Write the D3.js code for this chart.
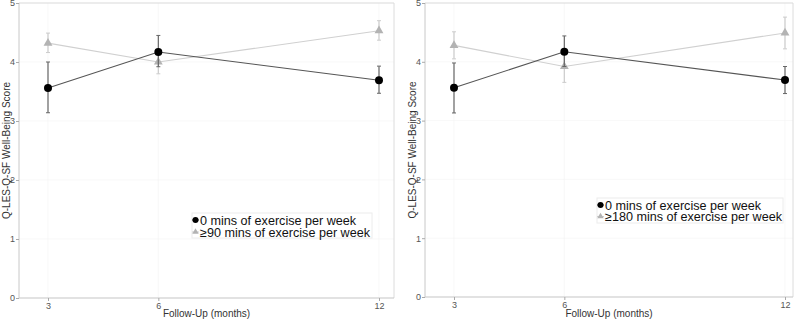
<!DOCTYPE html>
<html>
<head>
<meta charset="utf-8">
<script src="https://cdn.jsdelivr.net/npm/d3@7"></script>
<style>
  body { margin: 0; background: #fff; }
  svg { font-family: "Liberation Sans", Arial, sans-serif; }
</style>
</head>
<body>
<div id="wrapper"></div>
<script>
// follow-up months
const months = [3, 6, 12];
const yTicks = [0, 1, 2, 3, 4, 5];

// left panel: 0 mins vs >=90 mins
const left0Mean = [3.56, 4.17, 3.69];
const left0Low = [3.14, 3.92, 3.47];
const left0High = [4.0, 4.45, 3.93];
const left90Mean = [4.32, 4.0, 4.53];
const left90Low = [4.16, 3.8, 4.37];
const left90High = [4.49, 4.2, 4.70];

// right panel: 0 mins vs >=180 mins
const right0Mean = [3.56, 4.17, 3.69];
const right0Low = [3.13, 3.92, 3.46];
const right0High = [3.98, 4.44, 3.92];
const right180Mean = [4.28, 3.92, 4.49];
const right180Low = [4.05, 3.65, 4.22];
const right180High = [4.51, 4.18, 4.76];

const zipSeries = (mean, low, high) =>
  months.map((m, i) => ({ month: m, mean: mean[i], low: low[i], high: high[i] }));

const width = 800;
const height = 320;

const wrapper = d3
  .select("#wrapper")
  .append("svg")
  .attr("width", width)
  .attr("height", height);

function drawPanel(opts) {
  const { left, right, top, bottom, x3, x12, series, legend } = opts;

  const xScale = d3.scaleLinear().domain([3, 12]).range([x3, x12]);
  const yScale = d3.scaleLinear().domain([0, 5]).range([bottom, top]);

  const g = wrapper.append("g");

  // grid
  g.selectAll(".hgrid")
    .data(yTicks)
    .enter()
    .append("line")
    .attr("x1", left)
    .attr("x2", right)
    .attr("y1", d => yScale(d))
    .attr("y2", d => yScale(d))
    .attr("stroke", "#f3f3f3")
    .attr("stroke-width", 0.6);
  g.selectAll(".vgrid")
    .data(months)
    .enter()
    .append("line")
    .attr("x1", d => xScale(d))
    .attr("x2", d => xScale(d))
    .attr("y1", top)
    .attr("y2", bottom)
    .attr("stroke", "#f3f3f3")
    .attr("stroke-width", 0.6);

  // panel border (top/right light)
  g.append("path")
    .attr("d", `M${left},${top}H${right}V${bottom}`)
    .attr("fill", "none")
    .attr("stroke", "#dcdcdc")
    .attr("stroke-width", 1);

  // axes
  const xAxis = g
    .append("g")
    .attr("transform", `translate(0,${bottom})`)
    .call(d3.axisBottom(xScale).tickValues(months).tickFormat(d3.format("d")).tickSize(3).tickPadding(2));
  xAxis.select(".domain").attr("d", `M${left},0H${right}`).attr("stroke", "#c8c8c8");
  const yAxis = g
    .append("g")
    .attr("transform", `translate(${left},0)`)
    .call(d3.axisLeft(yScale).tickValues(yTicks).tickFormat(d3.format("d")).tickSize(3).tickPadding(1));
  yAxis.select(".domain").attr("d", `M0,${top}V${bottom}`).attr("stroke", "#c8c8c8");
  [xAxis, yAxis].forEach(a => {
    a.selectAll(".tick line").attr("stroke", "#aaa");
    a.selectAll(".tick text")
      .attr("fill", "#555")
      .style("font-size", "9px")
      .style("font-family", "Liberation Sans, Arial, sans-serif");
  });

  // axis titles
  g.append("text")
    .attr("x", (left + right) / 2)
    .attr("y", 317)
    .attr("text-anchor", "middle")
    .attr("fill", "#333")
    .style("font-size", "10px")
    .text("Follow-Up (months)");
  g.append("text")
    .attr("transform", `translate(${left - 9},${(top + bottom) / 2}) rotate(-90)`)
    .attr("text-anchor", "middle")
    .attr("fill", "#333")
    .style("font-size", "10px")
    .text("Q-LES-Q-SF Well-Being Score");

  const line = d3
    .line()
    .x(d => xScale(d.month))
    .y(d => yScale(d.mean));

  const triangle = d3.symbol().type(d3.symbolTriangle).size(34);

  // draw grey series first, then black
  series.forEach(s => {
    const sg = g.append("g");
    sg.append("path")
      .datum(s.data)
      .attr("d", line)
      .attr("fill", "none")
      .attr("stroke", s.lineColor)
      .attr("stroke-width", 1.1);
    const bars = sg.selectAll(".err").data(s.data).enter().append("g");
    bars.append("line")
      .attr("x1", d => xScale(d.month))
      .attr("x2", d => xScale(d.month))
      .attr("y1", d => yScale(d.low))
      .attr("y2", d => yScale(d.high))
      .attr("stroke", s.errColor)
      .attr("stroke-width", 1.2);
    ["low", "high"].forEach(k => {
      bars.append("line")
        .attr("x1", d => xScale(d.month) - 2)
        .attr("x2", d => xScale(d.month) + 2)
        .attr("y1", d => yScale(d[k]))
        .attr("y2", d => yScale(d[k]))
        .attr("stroke", s.errColor)
        .attr("stroke-width", 1);
    });
    if (s.shape === "circle") {
      sg.selectAll(".pt").data(s.data).enter().append("circle")
        .attr("cx", d => xScale(d.month))
        .attr("cy", d => yScale(d.mean))
        .attr("r", 4)
        .attr("fill", s.pointColor);
    } else {
      sg.selectAll(".pt").data(s.data).enter().append("path")
        .attr("d", triangle)
        .attr("transform", d => `translate(${xScale(d.month)},${yScale(d.mean)})`)
        .attr("fill", s.pointColor);
    }
  });

  // legend
  const lg = g.append("g").attr("transform", `translate(${legend.x},${legend.y})`);
  lg.append("rect")
    .attr("width", legend.w)
    .attr("height", 25)
    .attr("fill", "#fff")
    .attr("stroke", "#ececec");
  const items = [series[1], series[0]];
  items.forEach((s, i) => {
    const cy = 7 + i * legend.gap;
    lg.append("line")
      .attr("x1", 0).attr("x2", 7)
      .attr("y1", cy).attr("y2", cy)
      .attr("stroke", s.lineColor)
      .attr("stroke-width", 1);
    if (s.shape === "circle") {
      lg.append("circle").attr("cx", 3.5).attr("cy", cy).attr("r", 3).attr("fill", s.pointColor);
    } else {
      lg.append("path")
        .attr("d", d3.symbol().type(d3.symbolTriangle).size(18))
        .attr("transform", `translate(3.5,${cy})`)
        .attr("fill", s.pointColor);
    }
    lg.append("text")
      .attr("x", 8)
      .attr("y", cy + 4.5)
      .attr("fill", "#111")
      .style("font-size", "12.6px")
      .text(s.label);
  });
}

drawPanel({
  left: 19, right: 394, top: 3, bottom: 298, x3: 48, x12: 379,
  legend: { x: 192, y: 213, w: 180, gap: 12 },
  series: [
    { data: zipSeries(left90Mean, left90Low, left90High), shape: "triangle",
      lineColor: "#d0d0d0", errColor: "#cccccc", pointColor: "#b3b3b3",
      label: "≥90 mins of exercise per week" },
    { data: zipSeries(left0Mean, left0Low, left0High), shape: "circle",
      lineColor: "#555", errColor: "#666", pointColor: "#000",
      label: "0 mins of exercise per week" }
  ]
});

drawPanel({
  left: 425, right: 793, top: 3, bottom: 297, x3: 454, x12: 785,
  legend: { x: 597, y: 198, w: 186, gap: 11.5 },
  series: [
    { data: zipSeries(right180Mean, right180Low, right180High), shape: "triangle",
      lineColor: "#d0d0d0", errColor: "#cccccc", pointColor: "#b3b3b3",
      label: "≥180 mins of exercise per week" },
    { data: zipSeries(right0Mean, right0Low, right0High), shape: "circle",
      lineColor: "#555", errColor: "#666", pointColor: "#000",
      label: "0 mins of exercise per week" }
  ]
});
</script>
</body>
</html>
